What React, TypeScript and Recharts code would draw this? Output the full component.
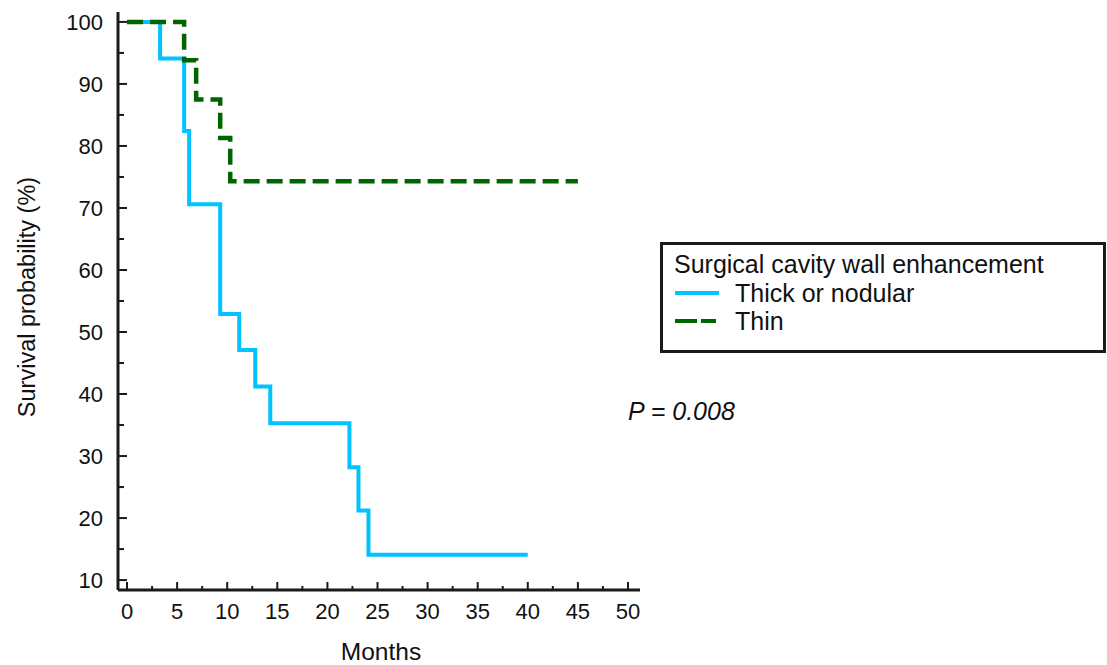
import React from 'react';
import { LineChart, Line, XAxis, YAxis, Legend } from 'recharts';

// Kaplan-Meier step data
const thickTimes = [0, 3.3, 5.7, 6.2, 9.3, 11.2, 12.8, 14.3, 22.2, 23.1, 24.1, 40];
const thickSurvival = [100, 94.1, 82.4, 70.6, 52.9, 47.1, 41.2, 35.3, 28.2, 21.2, 14.1, 14.1];
const thinTimes = [0, 5.7, 6.9, 9.3, 10.3, 45];
const thinSurvival = [100, 93.8, 87.5, 81.3, 74.3, 74.3];

const xTicks = [0, 2.5, 5, 7.5, 10, 12.5, 15, 17.5, 20, 22.5, 25, 27.5, 30, 32.5, 35, 37.5, 40, 42.5, 45, 47.5, 50];
const xMajorLabels = [0, 5, 10, 15, 20, 25, 30, 35, 40, 45, 50];
const yTicks = [10, 15, 20, 25, 30, 35, 40, 45, 50, 55, 60, 65, 70, 75, 80, 85, 90, 95, 100];
const yMajorLabels = [10, 20, 30, 40, 50, 60, 70, 80, 90, 100];

const seriesNames = ['Thick or nodular', 'Thin'];
const legendTitle = 'Surgical cavity wall enhancement';
const pText = 'P = 0.008';

const thickData = thickTimes.map((t, i) => ({ t, s: thickSurvival[i] }));
const thinData = thinTimes.map((t, i) => ({ t, s: thinSurvival[i] }));

const FONT = '"Liberation Sans", Arial, Helvetica, sans-serif';
const AXIS = '#1a1a1a';
const CYAN = '#00C3FF';
const GREEN = '#006400';
const Y_MARGIN = 15;
const X_MARGIN = 13;

const YTick = (props: any) => {
  const { x, y, payload } = props;
  const v = payload.value;
  const major = yMajorLabels.includes(v);
  const ax = x + Y_MARGIN;
  return (
    <g>
      <line x1={ax} x2={ax + (major ? 9 : 6)} y1={y} y2={y} stroke={AXIS} strokeWidth={2} />
      {major && (
        <text x={x} y={y} dy="0.36em" textAnchor="end" fontSize={22} fontFamily={FONT} fill="#111">
          {v}
        </text>
      )}
    </g>
  );
};

const XTick = (props: any) => {
  const { x, y, payload } = props;
  const v = payload.value;
  const major = xMajorLabels.includes(v);
  const ay = y - X_MARGIN;
  return (
    <g>
      <line x1={x} x2={x} y1={ay} y2={ay - (major ? 8 : 4)} stroke={AXIS} strokeWidth={2} />
      {major && (
        <text x={x} y={y} dy="0.72em" textAnchor="middle" fontSize={22} fontFamily={FONT} fill="#111">
          {v}
        </text>
      )}
    </g>
  );
};

const YTitle = (props: any) => {
  const vb = props.viewBox || { x: 0, y: 12, width: 118, height: 578 };
  const cx = vb.x + 27;
  const cy = vb.y + vb.height / 2 - 4;
  return (
    <text
      x={cx}
      y={cy}
      transform={`rotate(-90, ${cx}, ${cy})`}
      textAnchor="middle"
      dy="0.36em"
      fontSize={23.5}
      fontFamily={FONT}
      fill="#111"
    >
      Survival probability (%)
    </text>
  );
};

const XTitle = (props: any) => {
  const vb = props.viewBox || { x: 118, y: 590, width: 522, height: 75 };
  return (
    <text x={vb.x + vb.width / 2 + 2} y={vb.y + 70} textAnchor="middle" fontSize={24.5} fontFamily={FONT} fill="#111">
      Months
    </text>
  );
};

const renderLegend = (props: any) => {
  const payload = props.payload || [];
  return (
    <div
      style={{
        boxSizing: 'border-box',
        width: 446,
        height: 111,
        border: `3px solid ${AXIS}`,
        background: '#fff',
        padding: '5px 0 0 11px',
        fontFamily: FONT,
        fontSize: 25,
        color: '#111',
        lineHeight: '28.5px',
        textAlign: 'left',
      }}
    >
      <div>{legendTitle}</div>
      {payload.map((entry: any, i: number) => {
        const dashed = entry.value === 'Thin';
        return (
          <div key={i} style={{ display: 'flex', alignItems: 'center', height: 28.5 }}>
            <svg width={60} height={10} style={{ marginLeft: 1 }}>
              <line
                x1={0}
                x2={dashed ? 41 : 44}
                y1={5}
                y2={5}
                stroke={entry.color}
                strokeWidth={4}
                strokeDasharray={dashed ? '22 4' : undefined}
              />
            </svg>
            <span>{entry.value}</span>
          </div>
        );
      })}
    </div>
  );
};

export default function App() {
  return (
    <div style={{ position: 'absolute', left: 0, top: 0, width: 1107, height: 665, background: '#fff' }}>
      <LineChart width={1107} height={665} margin={{ top: 12, right: 467, bottom: 0, left: 0 }}>
        <XAxis
          dataKey="t"
          type="number"
          domain={[-0.9, 51.2]}
          ticks={xTicks}
          interval={0}
          allowDataOverflow
          height={75}
          tickSize={0}
          tickMargin={X_MARGIN}
          tickLine={false}
          tick={<XTick />}
          axisLine={{ stroke: AXIS, strokeWidth: 3 }}
          label={<XTitle />}
        />
        <YAxis
          type="number"
          domain={[8.4, 101.6]}
          ticks={yTicks}
          interval={0}
          allowDataOverflow
          width={118}
          tickSize={0}
          tickMargin={Y_MARGIN}
          tickLine={false}
          tick={<YTick />}
          axisLine={{ stroke: AXIS, strokeWidth: 3 }}
          label={<YTitle />}
        />
        <Legend
          layout="vertical"
          align="center"
          verticalAlign="middle"
          content={renderLegend}
          wrapperStyle={{ position: 'absolute', left: 660, top: 242, width: 446, height: 111 }}
        />
        <Line
          data={thickData}
          dataKey="s"
          name={seriesNames[0]}
          type="stepAfter"
          stroke={CYAN}
          strokeWidth={4}
          dot={false}
          activeDot={false}
          isAnimationActive={false}
          strokeLinejoin="miter"
        />
        <Line
          data={thinData}
          dataKey="s"
          name={seriesNames[1]}
          type="stepAfter"
          stroke={GREEN}
          strokeWidth={4.5}
          strokeDasharray="16 7"
          dot={false}
          activeDot={false}
          isAnimationActive={false}
          strokeLinejoin="miter"
        />
      </LineChart>
      <div
        style={{
          position: 'absolute',
          left: 628,
          top: 396,
          fontFamily: FONT,
          fontSize: 25,
          fontStyle: 'italic',
          color: '#111',
          lineHeight: '30px',
          whiteSpace: 'nowrap',
        }}
      >
        {pText}
      </div>
    </div>
  );
}
